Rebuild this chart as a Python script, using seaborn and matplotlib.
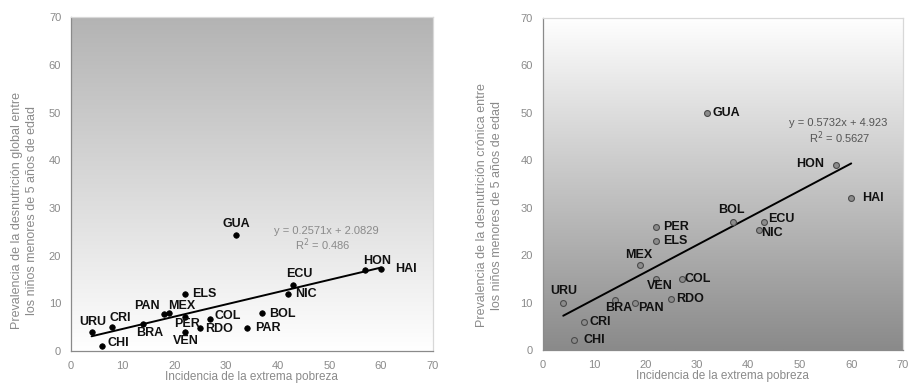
import matplotlib
matplotlib.use('Agg')
import matplotlib.pyplot as plt
from matplotlib.colors import LinearSegmentedColormap
import numpy as np
import pandas as pd
import seaborn as sns

# --- data ---
pobreza_glob = [4, 8, 6, 14, 18, 19, 22, 22, 22, 25, 27, 32, 34, 37, 43, 42, 57, 60]
desn_global = [4, 5, 1, 5.6, 7.8, 7.9, 11.9, 7.2, 4.0, 4.9, 6.7, 24.3, 4.9, 7.9, 13.9, 12.0, 17.0, 17.3]
paises_glob = ['URU', 'CRI', 'CHI', 'BRA', 'PAN', 'MEX', 'ELS', 'PER', 'VEN', 'RDO', 'COL',
               'GUA', 'PAR', 'BOL', 'ECU', 'NIC', 'HON', 'HAI']

pobreza_cron = [4, 8, 6, 14, 18, 19, 22, 22, 22, 27, 25, 32, 37, 43, 42, 57, 60]
desn_cronica = [10, 6, 2, 10.6, 10, 18, 26, 23, 15, 15, 10.8, 50, 27, 27, 25.2, 39, 32]
paises_cron = ['URU', 'CRI', 'CHI', 'BRA', 'PAN', 'MEX', 'PER', 'ELS', 'VEN', 'COL', 'RDO',
               'GUA', 'BOL', 'ECU', 'NIC', 'HON', 'HAI']

# trendline coefficients printed on the chart
pend_glob, inter_glob, r2_glob = 0.2571, 2.0829, '0.486'
pend_cron, inter_cron, r2_cron = 0.5732, 4.923, '0.5627'

# label offsets (data units) relative to each point
off_glob = {'URU': (0.2, 2.1), 'CRI': (1.6, 1.9), 'CHI': (3.2, 0.75), 'BRA': (1.2, -1.8),
            'PAN': (-3.2, 1.6), 'MEX': (2.4, 1.5), 'ELS': (3.8, 0), 'PER': (0.4, -1.5),
            'VEN': (0.3, -1.8), 'RDO': (3.6, -0.2), 'COL': (3.3, 0.6), 'GUA': (0, 2.4),
            'PAR': (4.1, -0.1), 'BOL': (3.9, -0.1), 'ECU': (1.1, 2.2), 'NIC': (3.5, -0.1),
            'HON': (2.2, 1.9), 'HAI': (4.8, 0)}
off_cron = {'URU': (0.1, 2.5), 'CRI': (3.1, 0), 'CHI': (4.0, 0), 'BRA': (0.8, -1.8),
            'PAN': (3.1, -1.1), 'MEX': (-0.4, 2.1), 'PER': (4.0, 0), 'ELS': (3.8, 0),
            'VEN': (0.7, -1.5), 'COL': (3.1, 0), 'RDO': (3.7, 0), 'GUA': (3.7, 0),
            'BOL': (-0.3, 2.6), 'ECU': (3.5, 0.5), 'NIC': (2.5, -0.5), 'HON': (-4.9, 0.3),
            'HAI': (4.3, 0)}

df_glob = pd.DataFrame({'x': pobreza_glob, 'y': desn_global, 'pais': paises_glob})
df_cron = pd.DataFrame({'x': pobreza_cron, 'y': desn_cronica, 'pais': paises_cron})

sns.set_style('white')
plt.rcParams['font.family'] = ['Liberation Sans', 'DejaVu Sans']

fig = plt.figure(figsize=(9.09, 3.88), dpi=100)
ax1 = fig.add_axes([0.078, 0.095, 0.398, 0.861])
ax2 = fig.add_axes([0.597, 0.098, 0.396, 0.856])

grad = np.linspace(0, 1, 256).reshape(-1, 1)
cmap_l = LinearSegmentedColormap.from_list('l', ['#ffffff', '#b3b3b3'])
cmap_r = LinearSegmentedColormap.from_list('r', ['#8a8a8a', '#ffffff'])
gris = '#8a8a8a'


def estilo(ax, cmap, ylabel, lab_x, lab_y):
    ax.imshow(grad, extent=[0, 70, 0, 70], origin='lower', aspect='auto', cmap=cmap, zorder=0)
    ax.set_xlim(0, 70)
    ax.set_ylim(0, 70)
    ax.set_xticks(range(0, 71, 10))
    ax.set_yticks(range(0, 71, 10))
    ax.tick_params(direction='inout', length=4, width=0.8, colors=gris,
                   labelcolor=gris, labelsize=8, pad=5)
    for s in ['left', 'bottom']:
        ax.spines[s].set_color(gris)
        ax.spines[s].set_linewidth(0.9)
    for s in ['top', 'right']:
        ax.spines[s].set_color('#d8d8d8')
        ax.spines[s].set_linewidth(0.9)
    ax.set_xlabel('Incidencia de la extrema pobreza', color=gris, fontsize=8.5, labelpad=0)
    ax.set_ylabel(ylabel, color=gris, fontsize=9, linespacing=1.35)
    ax.yaxis.set_label_coords(lab_x, lab_y)


# left panel: global malnutrition
estilo(ax1, cmap_l, 'Prevalencia de la desnutrición global entre\nlos niños menores de 5 años de edad',
       -0.09, 0.42)
xs = np.array([min(pobreza_glob), max(pobreza_glob)])
sns.lineplot(x=xs, y=pend_glob * xs + inter_glob, ax=ax1, color='black', lw=1.4, zorder=2)
sns.scatterplot(data=df_glob, x='x', y='y', ax=ax1, color='black', s=16, edgecolor='black',
                linewidth=0.5, zorder=3)
for _, r in df_glob.iterrows():
    dx, dy = off_glob[r.pais]
    ax1.text(r.x + dx, r.y + dy, r.pais, ha='center', va='center', fontsize=9,
             fontweight='bold', color='#111111', zorder=4)
ax1.text(49.5, 25.2, f'y = {pend_glob}x + {inter_glob}', ha='center', va='center',
         fontsize=8, color=gris)
ax1.text(48.7, 22.3, f'R$^2$ = {r2_glob}', ha='center', va='center', fontsize=8, color=gris)

# right panel: chronic malnutrition
estilo(ax2, cmap_r, 'Prevalencia de la desnutrición crónica entre\nlos niños menores de 5 años de edad',
       -0.11, 0.435)
xs = np.array([min(pobreza_cron), max(pobreza_cron)])
sns.lineplot(x=xs, y=pend_cron * xs + inter_cron, ax=ax2, color='black', lw=1.4, zorder=2)
sns.scatterplot(data=df_cron, x='x', y='y', ax=ax2, color='#8c8c8c', s=18, edgecolor='#4a4a4a',
                linewidth=0.8, zorder=3)
for _, r in df_cron.iterrows():
    dx, dy = off_cron[r.pais]
    ax2.text(r.x + dx, r.y + dy, r.pais, ha='center', va='center', fontsize=9,
             fontweight='bold', color='#111111', zorder=4)
ax2.text(57.4, 47.9, f'y = {pend_cron}x + {inter_cron}', ha='center', va='center',
         fontsize=8, color='#555555')
ax2.text(57.7, 44.7, f'R$^2$ = {r2_cron}', ha='center', va='center', fontsize=8, color='#555555')

fig.savefig('out.png', dpi=100)
